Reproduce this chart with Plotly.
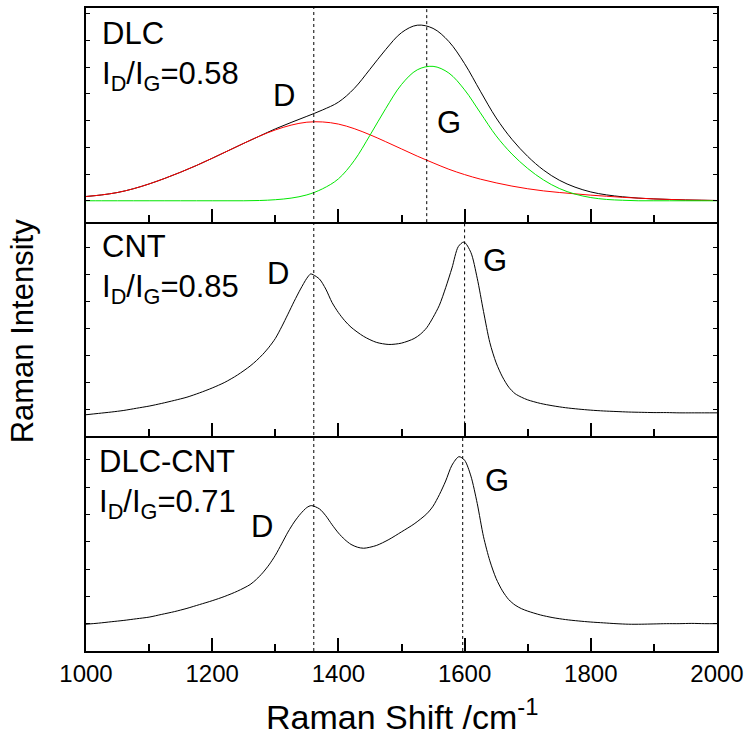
import plotly.graph_objects as go

# ---------------- data (arbitrary intensity units) ----------------
dlc_shift = [1000, 1025, 1050, 1075, 1100, 1125, 1150, 1175, 1200, 1225, 1250, 1275, 1300,
             1325, 1350, 1375, 1400, 1425, 1450, 1475, 1500, 1525, 1550, 1575, 1600, 1625,
             1650, 1675, 1700, 1725, 1750, 1775, 1800, 1825, 1850, 1875, 1900, 1925, 1950,
             1975, 2000]
dlc_total = [0.16, 0.22, 0.31, 0.45, 0.63, 0.84, 1.07, 1.32, 1.59, 1.87, 2.15, 2.42, 2.69,
             2.93, 3.16, 3.40, 3.69, 4.20, 4.92, 5.66, 6.29, 6.57, 6.45, 5.96, 5.13, 4.10,
             3.10, 2.30, 1.66, 1.15, 0.77, 0.51, 0.33, 0.22, 0.15, 0.10, 0.07, 0.05, 0.03,
             0.02, 0.01]
dlc_fit_d = [0.16, 0.22, 0.31, 0.45, 0.63, 0.84, 1.07, 1.32, 1.59, 1.87, 2.15, 2.42, 2.65,
             2.83, 2.94, 2.95, 2.87, 2.70, 2.47, 2.21, 1.94, 1.67, 1.42, 1.18, 0.98, 0.81,
             0.67, 0.55, 0.45, 0.37, 0.31, 0.26, 0.21, 0.17, 0.13, 0.10, 0.07, 0.05, 0.03,
             0.02, 0.01]
dlc_fit_g = [0, 0, 0, 0, 0, 0, 0, 0, 0, 0, 0, 0.01, 0.04,
             0.10, 0.22, 0.45, 0.82, 1.50, 2.45, 3.45, 4.35, 4.90, 5.03, 4.78, 4.15, 3.29,
             2.43, 1.75, 1.21, 0.78, 0.46, 0.25, 0.12, 0.05, 0.02, 0, 0, 0, 0,
             0, 0]

cnt_shift = [1000, 1020, 1040, 1060, 1080, 1100, 1120, 1140, 1160, 1180, 1200, 1220, 1240,
             1260, 1270, 1280, 1290, 1300, 1310, 1320, 1330, 1340, 1350, 1356, 1360, 1370,
             1380, 1390, 1400, 1410, 1420, 1440, 1460, 1480, 1500, 1520, 1530, 1540, 1550,
             1560, 1570, 1580, 1590, 1599, 1610, 1620, 1630, 1640, 1650, 1660, 1670, 1680,
             1690, 1700, 1720, 1740, 1760, 1780, 1800, 1820, 1840, 1860, 1880, 1900, 1920,
             1940, 1960, 1980, 2000]
cnt_int = [0.80, 0.85, 0.90, 0.96, 1.04, 1.12, 1.22, 1.33, 1.45, 1.61, 1.79, 2.00, 2.27,
           2.60, 2.80, 3.03, 3.30, 3.62, 4.05, 4.52, 5.00, 5.45, 5.85, 6.01, 5.98, 5.82,
           5.45, 4.95, 4.58, 4.28, 4.04, 3.70, 3.48, 3.40, 3.45, 3.62, 3.78, 4.02, 4.40,
           4.85, 5.50, 6.23, 7.02, 7.19, 6.80, 5.85, 4.62, 3.47, 2.72, 2.20, 1.82, 1.58,
           1.45, 1.35, 1.22, 1.13, 1.06, 1.01, 0.97, 0.94, 0.92, 0.90, 0.89, 0.88, 0.88,
           0.87, 0.87, 0.87, 0.87]

hyb_shift = [1000, 1020, 1040, 1060, 1080, 1100, 1120, 1140, 1160, 1180, 1200, 1220, 1240,
             1260, 1270, 1280, 1290, 1300, 1310, 1320, 1330, 1340, 1350, 1357, 1370, 1380,
             1390, 1400, 1410, 1420, 1430, 1440, 1460, 1480, 1500, 1520, 1540, 1550, 1560,
             1570, 1580, 1591, 1600, 1610, 1620, 1630, 1640, 1650, 1660, 1670, 1680, 1690,
             1700, 1720, 1740, 1760, 1780, 1800, 1820, 1840, 1860, 1880, 1900, 1920, 1940,
             1960, 1980, 2000]
hyb_int = [0.98, 1.02, 1.07, 1.12, 1.18, 1.24, 1.34, 1.44, 1.56, 1.70, 1.84, 2.00, 2.19,
           2.43, 2.62, 2.86, 3.15, 3.50, 3.92, 4.35, 4.72, 5.02, 5.25, 5.32, 5.20, 4.95,
           4.62, 4.32, 4.08, 3.90, 3.80, 3.76, 3.86, 4.08, 4.36, 4.65, 5.02, 5.30, 5.72,
           6.22, 6.80, 7.11, 6.98, 6.40, 5.40, 4.18, 3.30, 2.65, 2.20, 1.88, 1.68, 1.55,
           1.46, 1.32, 1.22, 1.15, 1.10, 1.06, 1.03, 1.00, 0.98, 0.98, 0.99, 1.00, 1.00,
           1.01, 1.00, 1.00]

panel_names = ["DLC", "CNT", "DLC-CNT"]
ratio_labels = ["0.58", "0.85", "0.71"]
d_band_pos = 1361
g_band_pos = [1540, 1600, 1597]
x_ticks = [1000, 1200, 1400, 1600, 1800, 2000]

# ---------------- figure ----------------
FONT = "Arial, Liberation Sans, sans-serif"
fig = go.Figure()

fig.add_trace(go.Scatter(x=dlc_shift, y=dlc_total, mode="lines", line=dict(color="black", width=1, shape="spline"),
                         xaxis="x", yaxis="y", showlegend=False))
fig.add_trace(go.Scatter(x=dlc_shift, y=dlc_fit_d, mode="lines", line=dict(color="#ff0000", width=1, shape="spline"),
                         xaxis="x", yaxis="y", showlegend=False))
fig.add_trace(go.Scatter(x=dlc_shift, y=dlc_fit_g, mode="lines", line=dict(color="#00e600", width=1, shape="spline"),
                         xaxis="x", yaxis="y", showlegend=False))
fig.add_trace(go.Scatter(x=cnt_shift, y=cnt_int, mode="lines", line=dict(color="black", width=1, shape="spline", smoothing=0.8),
                         xaxis="x2", yaxis="y2", showlegend=False))
fig.add_trace(go.Scatter(x=hyb_shift, y=hyb_int, mode="lines", line=dict(color="black", width=1, shape="spline", smoothing=0.8),
                         xaxis="x3", yaxis="y3", showlegend=False))

bottom_px, top_px = 650.7, 6.0
H = bottom_px - top_px
def py(p):
    return (bottom_px - p) / H

domains = [[py(220.7), 1.0], [py(435.5), py(220.7)], [0.0, py(435.5)]]
yranges = [[-0.799, 7.213], [0, 7.926], [0, 7.854]]

def xax(anchor, labels, mirror):
    return dict(range=[1000, 2000], domain=[0, 1], anchor=anchor, showline=True, linecolor="black",
                linewidth=2, mirror=mirror, ticks="inside", ticklen=13, tickwidth=1.5, tickcolor="black",
                tickvals=x_ticks, showticklabels=labels, showgrid=False, zeroline=False,
                minor=dict(dtick=100, tick0=1000, ticks="inside", ticklen=7, tickwidth=1.5, tickcolor="black"),
                tickfont=dict(family=FONT, size=24, color="black"))

def yax(anchor, dom, rng):
    return dict(domain=dom, range=rng, anchor=anchor, showline=True, linecolor="black", linewidth=2,
                mirror="ticks", ticks="inside", ticklen=4, tickwidth=1, tickcolor="black",
                dtick=1, tick0=0, showticklabels=False, showgrid=False, zeroline=False)

fig.update_layout(
    width=750, height=740,
    margin=dict(l=86, r=31, t=6, b=89),
    paper_bgcolor="white", plot_bgcolor="white",
    xaxis=xax("y", False, True), xaxis2=xax("y2", False, False), xaxis3=xax("y3", True, False),
    yaxis=yax("x", domains[0], yranges[0]),
    yaxis2=yax("x2", domains[1], yranges[1]),
    yaxis3=yax("x3", domains[2], yranges[2]),
    font=dict(family=FONT, color="black"),
)

shapes = [dict(type="line", xref="x3", yref="paper", x0=d_band_pos, x1=d_band_pos, y0=0, y1=1,
               line=dict(color="black", width=1, dash="dot"))]
for i, ax in enumerate(["", "2", "3"]):
    shapes.append(dict(type="line", xref="x" + ax, yref="y" + ax + " domain", x0=g_band_pos[i], x1=g_band_pos[i],
                       y0=0, y1=1, line=dict(color="black", width=1, dash="dot")))
fig.update_layout(shapes=shapes)

def px_x(p):
    return (p - 86) / 633.0

ann = []
def add(text, xp, yp, xanchor="left", yanchor="middle", size=31):
    ann.append(dict(text=text, x=px_x(xp), y=py(yp), xref="paper", yref="paper", showarrow=False,
                    xanchor=xanchor, yanchor=yanchor, align="left",
                    font=dict(family=FONT, size=size, color="black")))

name_top = [12, 226, 441]
name_x = [100, 100, 97]
d_lab = [(285, 94), (279, 272), (262.5, 526)]
g_lab = [(450, 121), (496.7, 259), (498.7, 480)]
for i in range(3):
    add(panel_names[i] + "<br>I<sub>D</sub>/I<sub>G</sub>=" + ratio_labels[i], name_x[i], name_top[i],
        "left", "top")
    add("D", d_lab[i][0], d_lab[i][1], "center")
    add("G", g_lab[i][0], g_lab[i][1], "center")

add("Raman Shift /cm<sup>-1</sup>", 402.5, 714, "center", "middle", 34)
ann.append(dict(text="Raman Intensity", x=px_x(22), y=py(330), xref="paper", yref="paper", showarrow=False,
                xanchor="center", yanchor="middle", textangle=-90,
                font=dict(family=FONT, size=31, color="black")))
fig.update_layout(annotations=ann)

fig.write_html("out.html")
